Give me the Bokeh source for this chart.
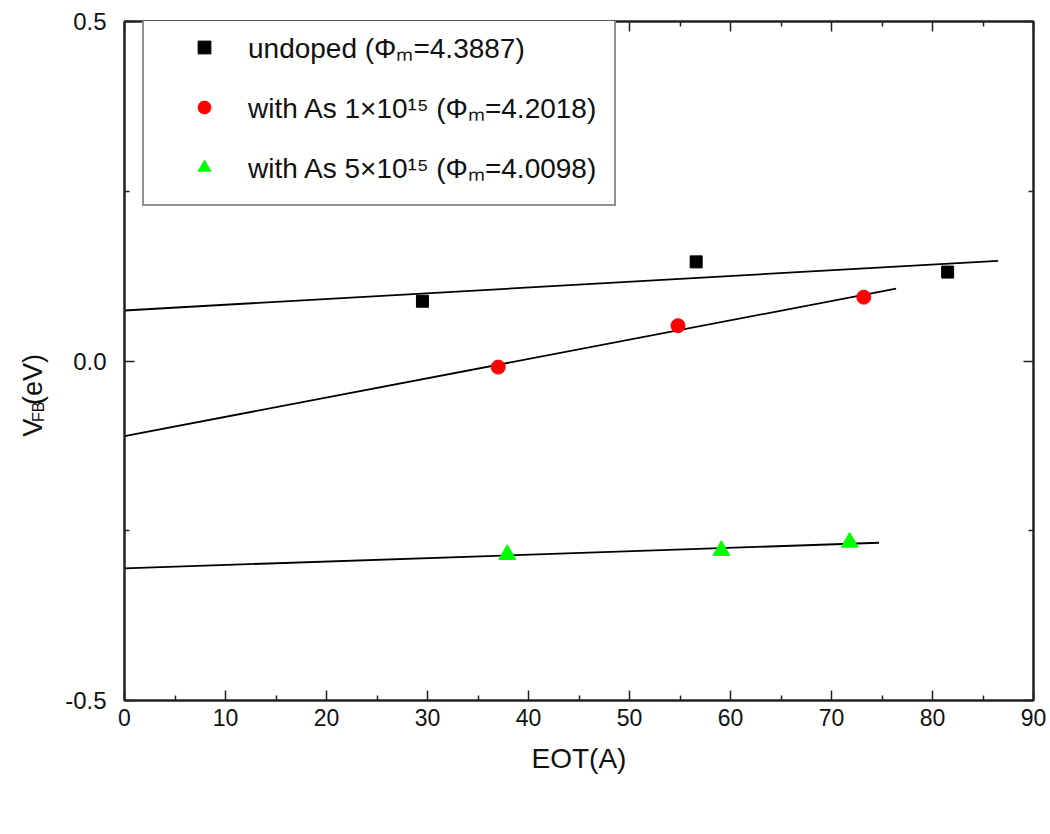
import numpy as np
from bokeh.plotting import figure
from bokeh.layouts import row
from bokeh.core.properties import value
from bokeh.models import (Range1d, LinearAxis, FixedTicker, CustomJSTickFormatter,
                          Legend, LegendItem)
from bokeh.embed import file_html
from bokeh.resources import INLINE

# ---- data ----
undoped_eot = [29.5, 56.6, 81.5]
undoped_vfb = [0.088, 0.146, 0.131]
as1_eot = [37.0, 54.8, 73.2]
as1_vfb = [-0.009, 0.052, 0.094]
as5_eot = [37.9, 59.1, 71.8]
as5_vfb = [-0.285, -0.279, -0.267]
fit_end_eot = [86.5, 76.4, 74.7]   # where each fitted line stops
series_labels = ["undoped (Φₘ=4.3887)",
                 "with As 1×10¹⁵ (Φₘ=4.2018)",
                 "with As 5×10¹⁵ (Φₘ=4.0098)"]
x_ticks = list(range(0, 91, 10))
x_minor = list(range(5, 90, 10))
y_ticks = [-0.5, 0.0, 0.5]
y_minor = [-0.25, 0.25]
x_title = "EOT(A)"
y_title_parts = ["V", "FB", "(eV)"]

FONT = "Liberation Sans"
AX = "#222222"
TXT = "#111111"

# ---- narrow strip that carries the y-axis title V_FB(eV) ----
LW, H = 60, 834
lab = figure(width=LW, height=H, output_backend="svg", toolbar_location=None,
             x_range=Range1d(0, LW), y_range=Range1d(0, H), min_border=0,
             x_axis_location=None, y_axis_location=None)
lab.outline_line_color = None
lab.grid.visible = False
lab.background_fill_color = "white"
lab.border_fill_color = "white"
# (x of baseline, y of text start, font size)
title_layout = [(32, 324, "27px"), (38, 342, "16px"), (32, 363, "27px")]
for txt, (tx, ty, fs) in zip(y_title_parts, title_layout):
    lab.text(x=[tx], y=[ty], text=[txt], angle=np.pi / 2,
             text_font=value(FONT), text_font_size=fs, text_color=TXT,
             text_align="left", text_baseline="alphabetic")

# ---- main plot ----
p = figure(width=1050 - LW, height=H, output_backend="svg", toolbar_location=None,
           x_range=Range1d(0, 90), y_range=Range1d(-0.5, 0.5),
           min_border_left=124 - LW, min_border_right=17, min_border_top=21,
           min_border_bottom=134)
p.grid.visible = False
p.outline_line_color = AX
p.outline_line_width = 2
p.background_fill_color = "white"
p.border_fill_color = "white"

def style_axis(ax, labels=True):
    ax.axis_line_color = AX
    ax.axis_line_width = 2
    ax.major_tick_line_color = AX
    ax.minor_tick_line_color = AX
    ax.major_tick_line_width = 1.5
    ax.minor_tick_line_width = 1.5
    ax.major_tick_in = 10
    ax.major_tick_out = 0
    ax.minor_tick_in = 5
    ax.minor_tick_out = 0
    if not labels:
        ax.formatter = CustomJSTickFormatter(code="return ''")
        ax.major_label_text_font_size = "0px"
        ax.major_label_standoff = 0

xb = p.xaxis[0]
xb.ticker = FixedTicker(ticks=x_ticks, minor_ticks=x_minor)
style_axis(xb)
xb.major_label_text_font = FONT
xb.major_label_text_font_size = "23px"
xb.major_label_text_color = TXT
xb.major_label_standoff = 8
xb.axis_label = x_title
xb.axis_label_text_font = FONT
xb.axis_label_text_font_size = "28px"
xb.axis_label_text_font_style = "normal"
xb.axis_label_text_color = TXT
xb.axis_label_standoff = 14

yl = p.yaxis[0]
yl.ticker = FixedTicker(ticks=y_ticks, minor_ticks=y_minor)
style_axis(yl)
yl.formatter = CustomJSTickFormatter(code="return tick.toFixed(1)")
yl.major_label_text_font = FONT
yl.major_label_text_font_size = "24px"
yl.major_label_text_color = TXT
yl.major_label_standoff = 18

xt = LinearAxis(ticker=FixedTicker(ticks=x_ticks, minor_ticks=x_minor))
style_axis(xt, labels=False)
p.add_layout(xt, "above")
yr = LinearAxis(ticker=FixedTicker(ticks=y_ticks, minor_ticks=y_minor))
style_axis(yr, labels=False)
p.add_layout(yr, "right")

# ---- fitted lines (least squares of each series) and points ----
series = [
    (undoped_eot, undoped_vfb, "square", "#000000", 12),
    (as1_eot, as1_vfb, "circle", "#ff0000", 14),
    (as5_eot, as5_vfb, "triangle", "#00ff00", 17),
]
renderers = []
for (xs, ys, mk, col, sz), xend in zip(series, fit_end_eot):
    coef = np.polyfit(xs, ys, 1)
    lx = [0.0, xend]
    p.line(lx, list(np.polyval(coef, lx)), line_color="black", line_width=1.8)
for xs, ys, mk, col, sz in series:
    r = p.scatter(xs, ys, marker=mk, size=sz, fill_color=col, line_color=col)
    renderers.append(r)

legend = Legend(items=[LegendItem(label=lb, renderers=[r])
                       for lb, r in zip(series_labels, renderers)],
                location=(18, 494))
legend.label_text_font = FONT
legend.label_text_font_size = "28px"
legend.label_text_color = TXT
legend.label_height = 32
legend.glyph_height = 32
legend.glyph_width = 84
legend.label_standoff = 2
legend.spacing = 22
legend.padding = 18
legend.margin = 0
legend.border_line_color = AX
legend.border_line_width = 2
legend.background_fill_color = "white"
legend.background_fill_alpha = 1.0
p.add_layout(legend)

layout = row(lab, p, spacing=0)
open("out.html", "w").write(file_html(layout, INLINE))
